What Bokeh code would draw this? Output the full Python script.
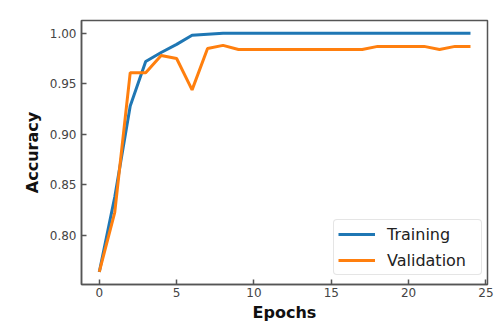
from bokeh.plotting import figure
from bokeh.models import FixedTicker, NumeralTickFormatter, Range1d, Legend, LegendItem
from bokeh.embed import file_html
from bokeh.resources import INLINE

epochs = list(range(25))
training = [0.764, 0.838, 0.928, 0.972, 0.981, 0.989, 0.998, 0.999, 1.0, 1.0,
            1.0, 1.0, 1.0, 1.0, 1.0, 1.0, 1.0, 1.0, 1.0, 1.0,
            1.0, 1.0, 1.0, 1.0, 1.0]
validation = [0.764, 0.823, 0.961, 0.961, 0.978, 0.975, 0.944, 0.985, 0.988, 0.984,
              0.984, 0.984, 0.984, 0.984, 0.984, 0.984, 0.984, 0.984, 0.987, 0.987,
              0.987, 0.987, 0.984, 0.987, 0.987]
x_ticks = [0, 5, 10, 15, 20, 25]
y_ticks = [0.80, 0.85, 0.90, 0.95, 1.00]

p = figure(width=501, height=331, output_backend="svg", toolbar_location=None,
           x_range=Range1d(-1.15, 25.1), y_range=Range1d(0.7516, 1.0126),
           min_border_left=81, min_border_right=14, min_border_top=20, min_border_bottom=47)
p.grid.visible = False
p.outline_line_color = "#555555"
p.outline_line_width = 1.5

r1 = p.line(epochs, training, line_color="#1f77b4", line_width=3)
r2 = p.line(epochs, validation, line_color="#ff7f0e", line_width=3)

for ax in (p.xaxis[0], p.yaxis[0]):
    ax.axis_line_color = "#555555"
    ax.axis_line_width = 1.5
    ax.major_tick_in = 5
    ax.major_tick_out = 0
    ax.minor_tick_in = 0
    ax.minor_tick_out = 0
    ax.major_tick_line_color = "#555555"
    ax.major_tick_line_width = 1.5
    ax.major_label_text_font = "DejaVu Sans"
    ax.major_label_text_font_size = "12px"
    ax.major_label_text_color = "#444444"
    ax.axis_label_text_font = "DejaVu Sans"
    ax.axis_label_text_font_size = "16px"
    ax.axis_label_text_font_style = "bold"
    ax.axis_label_text_color = "#111111"

p.xaxis.ticker = FixedTicker(ticks=x_ticks)
p.yaxis.ticker = FixedTicker(ticks=y_ticks)
p.yaxis.formatter = NumeralTickFormatter(format="0.00")
p.xaxis.axis_label = "Epochs"
p.yaxis.axis_label = "Accuracy"
p.xaxis.major_label_standoff = 3
p.yaxis.major_label_standoff = 5
p.xaxis.axis_label_standoff = 3
p.yaxis.axis_label_standoff = 5

legend = Legend(items=[LegendItem(label="Training", renderers=[r1]),
                       LegendItem(label="Validation", renderers=[r2])],
                location=(252, 9))
legend.label_text_font = "DejaVu Sans"
legend.label_text_font_size = "16px"
legend.label_text_color = "#222222"
legend.glyph_width = 37
legend.glyph_height = 20
legend.label_height = 20
legend.label_width = 90
legend.spacing = 6
legend.padding = 4
legend.margin = 0
legend.border_line_color = "#cccccc"
legend.border_line_width = 1
legend.border_radius = 4
legend.label_standoff = 12
p.add_layout(legend)

open("out.html", "w").write(file_html(p, INLINE))
